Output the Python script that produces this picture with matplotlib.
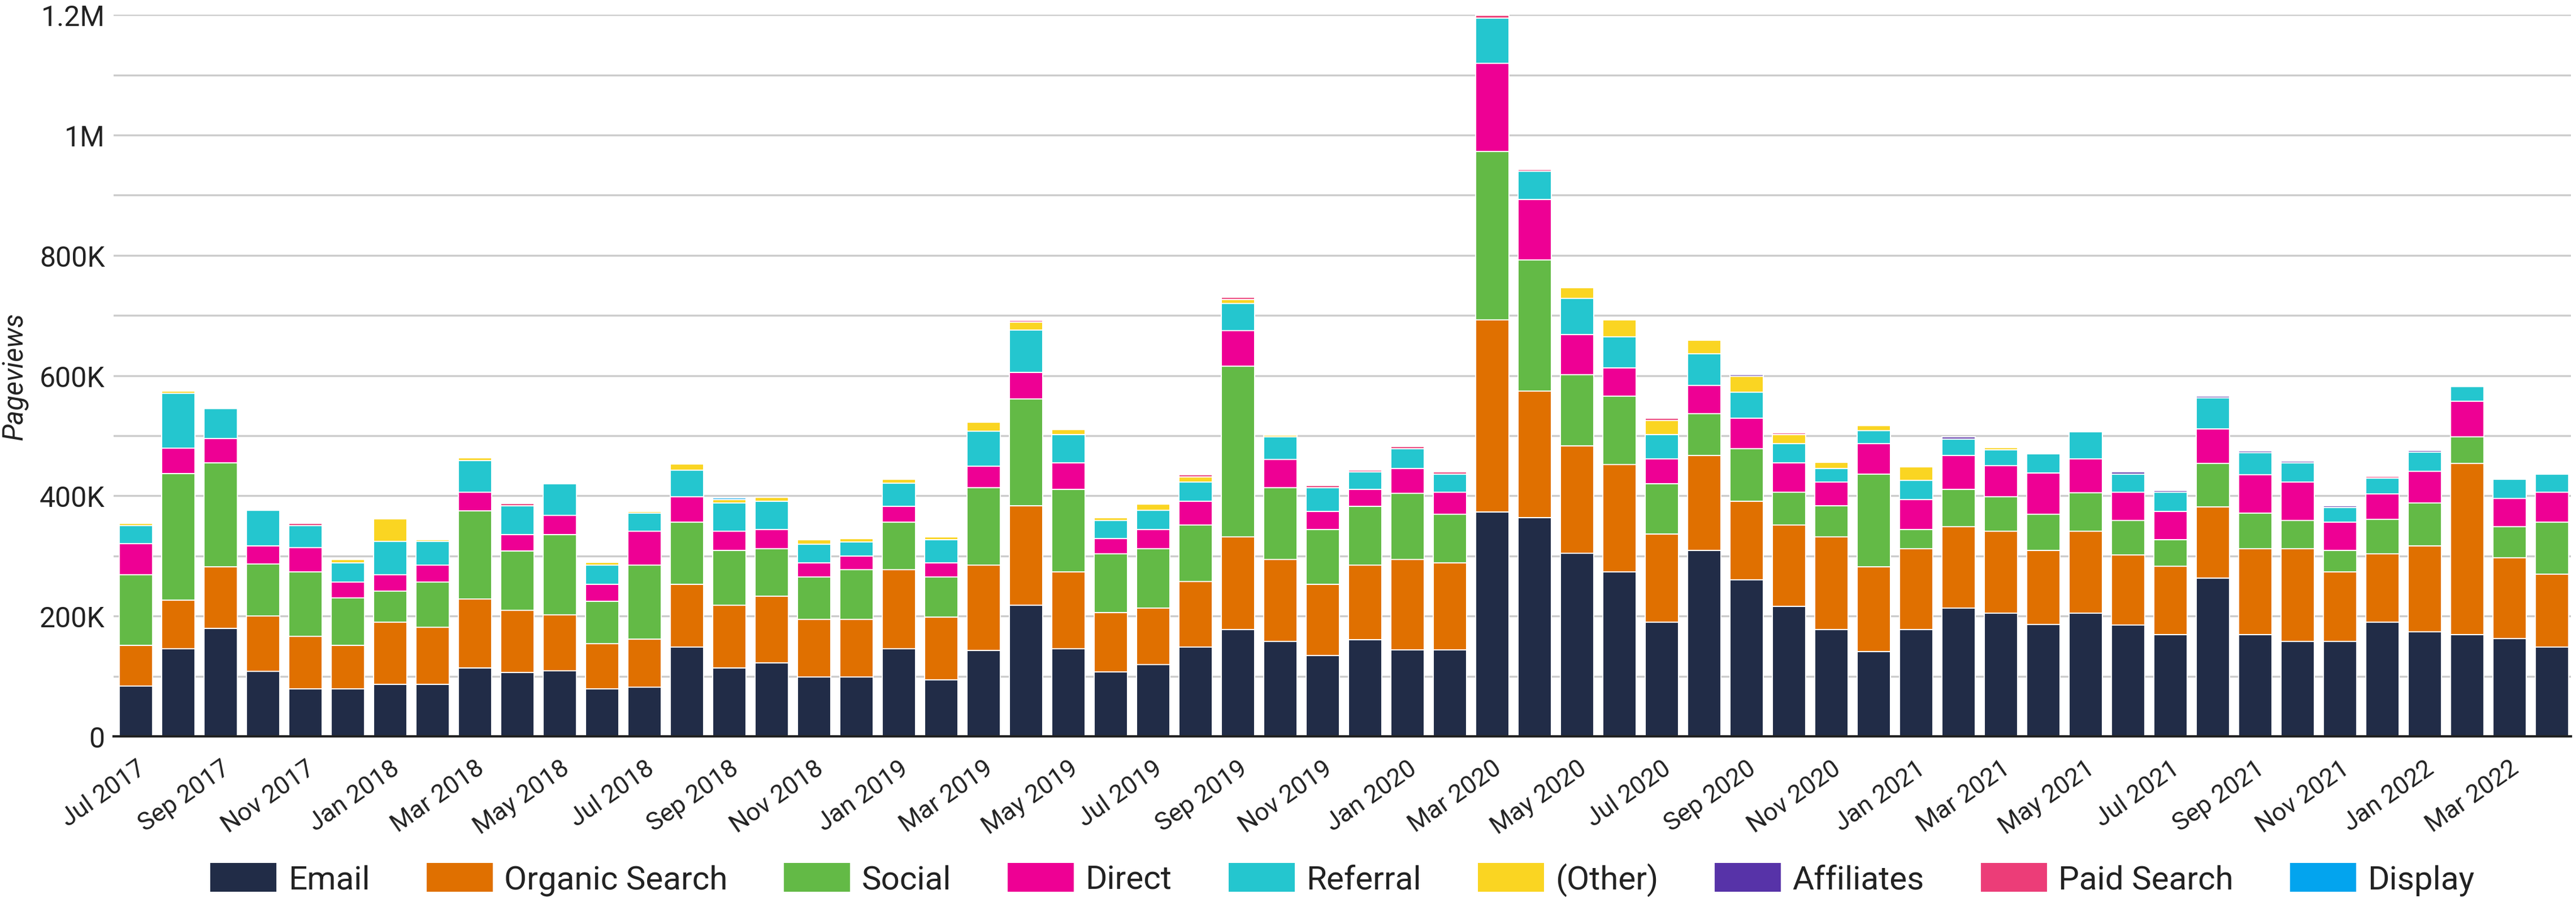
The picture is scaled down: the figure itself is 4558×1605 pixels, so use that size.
import matplotlib
matplotlib.use("Agg")
import matplotlib.pyplot as plt
import numpy as np
from matplotlib.ticker import FuncFormatter, MultipleLocator

months = ["Jul 2017", "Aug 2017", "Sep 2017", "Oct 2017", "Nov 2017", "Dec 2017",
          "Jan 2018", "Feb 2018", "Mar 2018", "Apr 2018", "May 2018", "Jun 2018",
          "Jul 2018", "Aug 2018", "Sep 2018", "Oct 2018", "Nov 2018", "Dec 2018",
          "Jan 2019", "Feb 2019", "Mar 2019", "Apr 2019", "May 2019", "Jun 2019",
          "Jul 2019", "Aug 2019", "Sep 2019", "Oct 2019", "Nov 2019", "Dec 2019",
          "Jan 2020", "Feb 2020", "Mar 2020", "Apr 2020", "May 2020", "Jun 2020",
          "Jul 2020", "Aug 2020", "Sep 2020", "Oct 2020", "Nov 2020", "Dec 2020",
          "Jan 2021", "Feb 2021", "Mar 2021", "Apr 2021", "May 2021", "Jun 2021",
          "Jul 2021", "Aug 2021", "Sep 2021", "Oct 2021", "Nov 2021", "Dec 2021",
          "Jan 2022", "Feb 2022", "Mar 2022", "Apr 2022"]

# values in thousands of pageviews
email = [84, 146, 180, 108, 79, 79, 87, 87, 114, 106, 109, 79, 82, 149, 114, 122, 99, 99,
         146, 94, 143, 218, 146, 107, 119, 149, 178, 158, 134, 161, 144, 144, 373, 364, 305, 274,
         190, 309, 260, 216, 178, 141, 178, 213, 205, 186, 205, 185, 169, 263, 169, 158, 158, 190,
         174, 169, 163, 149]
organic = [67, 81, 102, 92, 87, 72, 103, 94, 114, 104, 93, 75, 80, 104, 104, 111, 96, 96,
           131, 104, 142, 166, 128, 99, 94, 109, 154, 136, 119, 124, 150, 145, 320, 210, 178, 178,
           147, 158, 131, 136, 154, 141, 134, 136, 136, 123, 136, 117, 114, 119, 143, 154, 116, 114,
           143, 285, 134, 121]
social = [118, 210, 173, 87, 108, 79, 52, 76, 147, 98, 134, 71, 123, 103, 91, 79, 70, 82,
          79, 67, 129, 177, 137, 98, 99, 94, 284, 120, 91, 98, 110, 80, 280, 218, 119, 114,
          83, 70, 87, 54, 52, 154, 32, 62, 58, 60, 64, 57, 44, 72, 59, 47, 35, 57,
          71, 44, 52, 86]
direct = [52, 42, 40, 30, 40, 27, 27, 28, 31, 28, 32, 28, 56, 43, 32, 32, 24, 23,
          27, 24, 35, 44, 44, 25, 32, 39, 59, 47, 30, 28, 42, 37, 146, 101, 66, 47,
          42, 47, 51, 49, 39, 51, 50, 56, 51, 69, 57, 47, 47, 57, 64, 64, 47, 42,
          53, 59, 47, 50]
referral = [30, 92, 50, 59, 37, 32, 55, 39, 53, 48, 52, 32, 30, 44, 47, 47, 31, 23,
            38, 38, 59, 71, 47, 30, 32, 32, 45, 37, 40, 29, 32, 30, 76, 47, 60, 52,
            40, 52, 43, 32, 23, 22, 32, 27, 27, 32, 45, 30, 32, 52, 37, 32, 25, 27,
            32, 25, 32, 30]
other = [3, 3, 2, 2, 0, 5, 38, 3, 4, 0, 2, 5, 3, 10, 6, 7, 7, 6,
         7, 5, 15, 13, 8, 5, 10, 8, 7, 3, 0, 0, 0, 0, 0, 0, 18, 28,
         23, 23, 27, 15, 10, 8, 22, 0, 3, 0, 0, 0, 0, 0, 0, 0, 0, 0,
         0, 0, 0, 0]
affiliates = [0, 0, 0, 0, 0, 0, 0, 0, 0, 0, 0, 0, 0, 0, 0, 0, 0, 0,
              0, 0, 0, 0, 0, 0, 0, 0, 0, 0, 0, 0, 0, 0, 0, 0, 0, 0,
              0, 2, 3, 0, 0, 0, 0, 4, 0, 2, 2, 4, 3, 3, 3, 3, 3, 0,
              3, 2, 2, 2]
paid_search = [0, 0, 0, 0, 3, 0, 0, 0, 0, 3, 0, 0, 0, 0, 0, 0, 0, 0,
               0, 0, 0, 3, 0, 0, 0, 4, 3, 2, 3, 3, 4, 4, 4, 3, 2, 2,
               4, 0, 0, 3, 0, 0, 0, 0, 0, 0, 0, 0, 0, 0, 0, 0, 0, 2,
               0, 0, 0, 0]
display = [0, 0, 0, 0, 0, 0, 0, 0, 0, 0, 0, 0, 0, 0, 3, 0, 0, 0,
           0, 0, 0, 0, 0, 0, 0, 0, 0, 0, 0, 0, 0, 0, 0, 0, 0, 0,
           0, 0, 0, 0, 0, 0, 0, 0, 0, 0, 0, 0, 0, 0, 0, 0, 0, 0,
           0, 0, 0, 0]

series_names = ["Email", "Organic Search", "Social", "Direct", "Referral", "(Other)",
                "Affiliates", "Paid Search", "Display"]
series_values = [email, organic, social, direct, referral, other, affiliates, paid_search, display]
colors = ["#212C47", "#E07000", "#63BA46", "#EE0094", "#24C6CF", "#FAD522",
          "#5733A8", "#EC3D78", "#03A4EE"]

plt.rcParams['font.family'] = ['Roboto', 'DejaVu Sans']

fig = plt.figure(figsize=(45.58, 16.06), dpi=100)
ax_left, ax_width = 0.0441, 0.9539
ax = fig.add_axes([ax_left, 0.188, ax_width, 0.795])

x = np.arange(len(months))
bottom = np.zeros(len(months))
handles = []
for name, vals, col in zip(series_names, series_values, colors):
    v = np.array(vals, dtype=float) * 1000
    b = ax.bar(x, v, bottom=bottom, width=0.79, color=col, edgecolor="white",
               linewidth=1.5, label=name, zorder=3)
    bottom += v
    handles.append(b)

ax.set_xlim(-0.53, len(months) - 0.55)
ax.set_ylim(0, 1.2e6)
ax.yaxis.set_major_locator(MultipleLocator(200000))
ax.yaxis.set_minor_locator(MultipleLocator(100000))

def fmt(v, pos):
    if v == 0:
        return "0"
    if v >= 1e6:
        s = f"{v/1e6:.1f}".rstrip("0").rstrip(".")
        return s + "M"
    return f"{int(round(v/1000))}K"

ax.yaxis.set_major_formatter(FuncFormatter(fmt))
ax.grid(axis="y", which="both", color="#CCCCCC", linewidth=2.5, zorder=0)
ax.set_axisbelow(True)
for s in ["top", "right", "left"]:
    ax.spines[s].set_visible(False)
ax.spines["bottom"].set_color("#222222")
ax.spines["bottom"].set_linewidth(3)
ax.spines["bottom"].set_zorder(5)
ax.tick_params(axis="y", which="both", length=0, labelsize=36, pad=11, labelcolor="#222222")
ax.tick_params(axis="x", length=0, labelsize=32, pad=25, labelcolor="#222222")

ax.set_xticks(x[::2])
ax.set_xticklabels(months[::2], rotation=35, ha="right", va="top", rotation_mode="anchor")
ax.set_ylabel("Pageviews", fontsize=35, style="italic", labelpad=14, color="#222222")

leg = fig.legend(handles=handles, labels=series_names, loc="center", ncol=9,
                 bbox_to_anchor=(ax_left + ax_width / 2, 0.0305), frameon=False, fontsize=42,
                 handlelength=2.04, handleheight=1.0, handletextpad=0.33,
                 columnspacing=1.7, borderpad=0.1)
for t in leg.get_texts():
    t.set_color("#222222")

fig.savefig("out.png", dpi=100)
